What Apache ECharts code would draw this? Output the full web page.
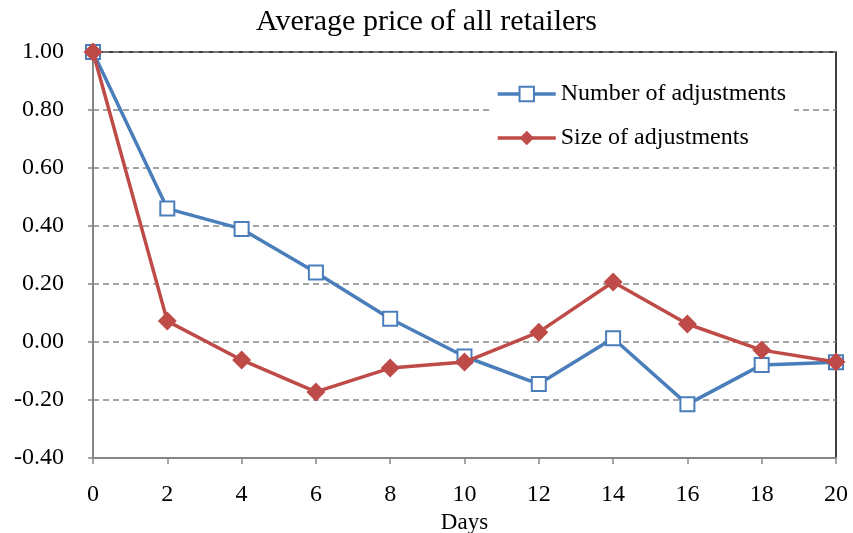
<!DOCTYPE html>
<html>
<head>
<meta charset="utf-8">
<script src="https://cdn.jsdelivr.net/npm/echarts@6/dist/echarts.min.js"></script>
<style>
  html, body { margin: 0; padding: 0; background: #ffffff; }
  #main { width: 853px; height: 533px; }
</style>
</head>
<body>
<div id="main"></div>
<script type="text/javascript">
    // days on the x axis
    var days = [0, 2, 4, 6, 8, 10, 12, 14, 16, 18, 20];
    // 调整次数
    var numberAdj = [1.00, 0.46, 0.39, 0.24, 0.08, -0.05, -0.145, 0.013, -0.215, -0.079, -0.07];
    // 调整幅度
    var sizeAdj = [1.00, 0.072, -0.062, -0.172, -0.09, -0.069, 0.034, 0.207, 0.062, -0.028, -0.069];

    function pairs(ys) {
        var out = [];
        for (var i = 0; i < days.length; i++) out.push([days[i], ys[i]]);
        return out;
    }

    var font = 'Liberation Serif';
    var myChart = echarts.init(document.getElementById('main'));
    myChart.setOption({
        animation: false,
        title: {
            text: 'Average price of all retailers',
            left: 'center',
            top: 2,
            textStyle: { fontFamily: font, fontSize: 30, fontWeight: 'normal', color: '#000' }
        },
        legend: {
            orient: 'vertical',
            left: 490,
            top: 76,
            itemGap: 20,
            itemWidth: 58,
            itemHeight: 18,
            padding: [6, 8, 6, 6],
            backgroundColor: '#ffffff',
            lineStyle: { width: 3.5 },
            textStyle: { fontFamily: font, fontSize: 24, color: '#000' },
            data: ['Number of adjustments', 'Size of adjustments']
        },
        grid: {
            left: 93, right: 17, top: 52, bottom: 75,
            outerBoundsMode: 'none',
            containLabel: false,
            show: true, borderColor: '#000', borderWidth: 1.5
        },
        xAxis: {
            type: 'value',
            min: 0, max: 20, interval: 2,
            name: 'Days',
            nameLocation: 'middle',
            nameGap: 45,
            nameTextStyle: { fontFamily: font, fontSize: 23, color: '#000' },
            axisLine: { onZero: false, lineStyle: { color: '#868686', width: 2 } },
            axisTick: { show: true, inside: false, length: 6, lineStyle: { color: '#868686', width: 1.5 } },
            axisLabel: { fontFamily: font, fontSize: 24, color: '#000', margin: 25 },
            splitLine: { show: false }
        },
        yAxis: {
            type: 'value',
            min: -0.4, max: 1.0, interval: 0.2,
            axisLine: { show: true, lineStyle: { color: '#868686', width: 2 } },
            axisTick: { show: true, inside: false, length: 5, lineStyle: { color: '#868686', width: 1.5 } },
            axisLabel: {
                fontFamily: font, fontSize: 24, color: '#000', margin: 29,
                formatter: function (v) { return (Math.round(v * 100) / 100).toFixed(2); }
            },
            splitLine: { show: true, lineStyle: { color: '#868686', type: [6, 4], width: 1.5 } }
        },
        series: [
            {
                name: 'Number of adjustments',
                type: 'line',
                data: pairs(numberAdj),
                symbol: 'rect',
                symbolSize: 14,
                lineStyle: { color: '#4A7EBB', width: 3.5 },
                itemStyle: { color: '#ffffff', borderColor: '#4A7EBB', borderWidth: 2 },
                z: 3
            },
            {
                name: 'Size of adjustments',
                type: 'line',
                data: pairs(sizeAdj),
                symbol: 'diamond',
                symbolSize: 19,
                lineStyle: { color: '#BE4B48', width: 3.5 },
                itemStyle: { color: '#BE4B48', borderColor: '#BE4B48', borderWidth: 0 },
                z: 4
            }
        ]
    });
</script>
</body>
</html>
